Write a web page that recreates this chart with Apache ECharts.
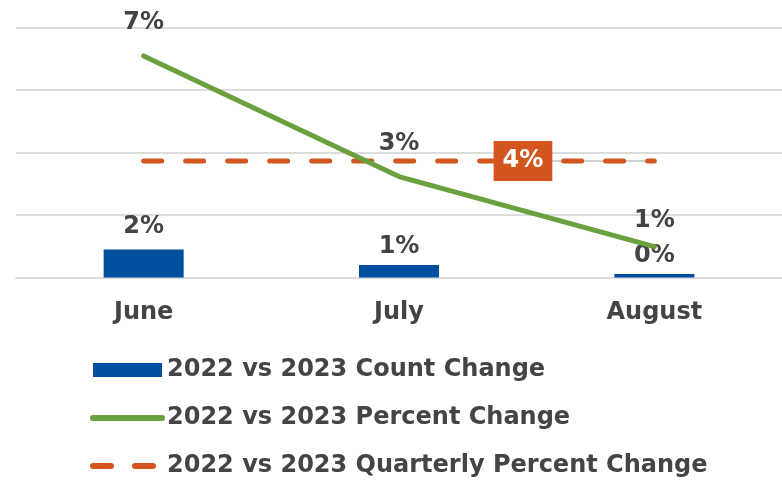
<!DOCTYPE html>
<html>
<head>
<meta charset="utf-8">
<script src="https://cdn.jsdelivr.net/npm/echarts@6/dist/echarts.min.js"></script>
<style>
  html, body { margin: 0; padding: 0; background: #fff; }
  #chart { width: 782px; height: 480px; }
</style>
</head>
<body>
<div id="chart"></div>
<script>
// chart values
const months = ['June', 'July', 'August'];
const countChange = [1.8, 0.8, 0.22];       // secondary (hidden) axis
const percentChange = [7.09, 3.23, 0.99];
const quarterlyChange = [3.73, 3.73, 3.73];
const seriesNames = [
  '2022 vs 2023 Count Change',
  '2022 vs 2023 Percent Change',
  '2022 vs 2023 Quarterly Percent Change'
];

const FONT = 'DejaVu Sans';
const TXT = '#444444';
const GREEN = '#6AA03E';
const ORANGE = '#D4561F';
const DASH = [18, 24];
const CLEAR = 'rgba(0,0,0,0)';
const pct = p => Math.round(p.value) + '%';
const lbl = { fontFamily: FONT, fontWeight: 'bold', fontSize: 24, color: TXT };

let chart = echarts.init(document.getElementById('chart'));
let option = {
  animation: false,
  textStyle: { fontFamily: FONT },
  grid: { left: 16, right: 0, top: 27.5, bottom: 202.5 },
  legend: {
    orient: 'vertical',
    left: 85,
    top: 353,
    height: 200,
    itemWidth: 69,
    itemHeight: 14,
    itemGap: 24,
    textStyle: lbl,
    data: [
      { name: seriesNames[0], icon: 'rect' },
      { name: seriesNames[1], itemStyle: { opacity: 0 },
        lineStyle: { width: 6, cap: 'round', color: GREEN } },
      { name: seriesNames[2], itemStyle: { opacity: 0 },
        lineStyle: { width: 6, cap: 'round', type: DASH, color: ORANGE } }
    ]
  },
  xAxis: {
    type: 'category',
    data: months,
    axisTick: { show: false },
    axisLine: { lineStyle: { color: '#dcdcdc', width: 2 } },
    axisLabel: Object.assign({ margin: 23 }, lbl)
  },
  yAxis: [
    {
      type: 'value', min: 0, max: 8, interval: 2,
      axisLabel: { show: false },
      splitLine: { lineStyle: { color: '#dcdcdc', width: 2 } }
    },
    {
      type: 'value', min: 0, max: 16,
      show: false,
      splitLine: { show: false }
    }
  ],
  series: [
    {
      name: seriesNames[0],
      type: 'bar',
      yAxisIndex: 1,
      data: countChange.map((v, i) => ({ value: v, label: { distance: i === 0 ? 11 : 6 } })),
      barWidth: 80,
      itemStyle: { color: '#004F9E' },
      label: Object.assign({ show: true, position: 'top', formatter: pct }, lbl)
    },
    {
      name: seriesNames[1],
      type: 'line',
      data: percentChange.map((v, i) => ({ value: v, label: { distance: i === 2 ? 13 : 20 } })),
      symbol: 'circle',
      symbolSize: 2,
      lineStyle: { color: GREEN, width: 5, cap: 'round' },
      itemStyle: { color: CLEAR },
      label: Object.assign({ show: true, position: 'top', formatter: pct }, lbl),
      z: 4
    },
    {
      // grey leader line of the quarterly label, drawn under the dashes
      name: 'leader',
      type: 'line',
      data: quarterlyChange.map((v, i) => i === 2 ? {
        value: v,
        label: {
          show: true, position: 'left', distance: 0,
          formatter: '{l| }',
          rich: { l: { width: 104, height: 1.5, lineHeight: 1.5, fontSize: 1,
                       backgroundColor: '#bfbfbf', verticalAlign: 'middle' } }
        }
      } : v),
      symbol: 'circle',
      symbolSize: 2,
      lineStyle: { opacity: 0 },
      itemStyle: { color: CLEAR },
      silent: true,
      z: 1
    },
    {
      name: seriesNames[2],
      type: 'line',
      data: quarterlyChange.map((v, i) => i === 2 ? {
        value: v,
        label: {
          show: true, position: 'left', distance: 101, formatter: pct,
          backgroundColor: ORANGE, color: '#fff', padding: [8, 9, 8, 9],
          fontFamily: FONT, fontWeight: 'bold', fontSize: 24
        }
      } : v),
      symbol: 'circle',
      symbolSize: 2,
      lineStyle: { color: ORANGE, width: 5, type: DASH, cap: 'round' },
      itemStyle: { color: CLEAR },
      z: 2
    }
  ]
};
chart.setOption(option);
</script>
</body>
</html>
